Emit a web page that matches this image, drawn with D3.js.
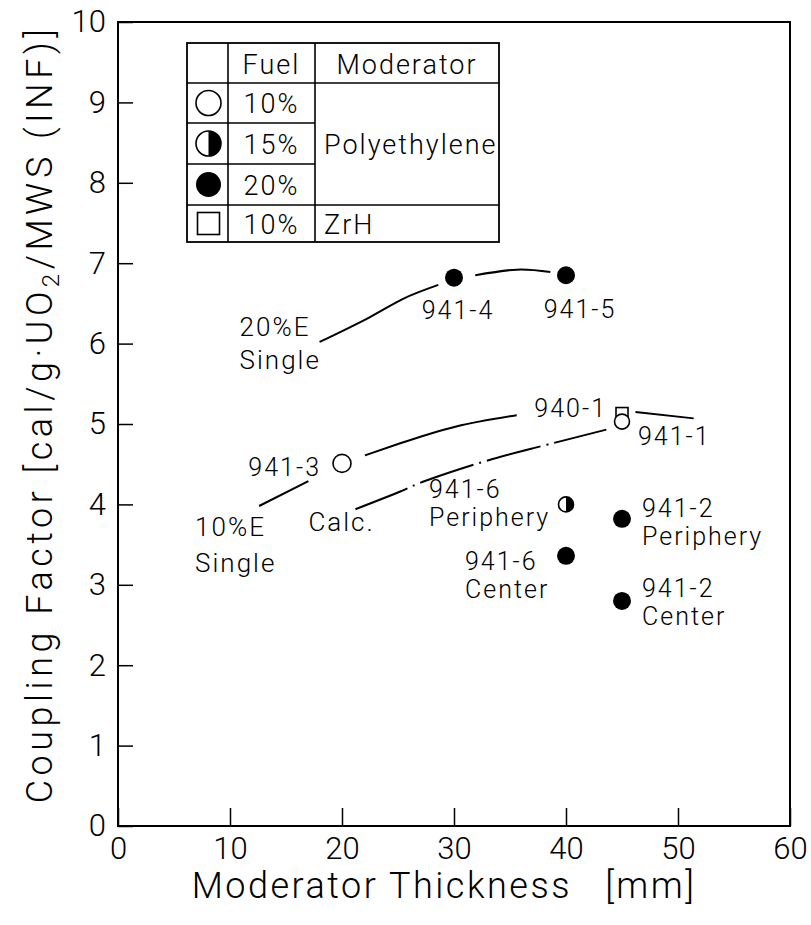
<!DOCTYPE html>
<html>
<head>
<meta charset="utf-8">
<script src="https://cdn.jsdelivr.net/npm/d3@7"></script>
<style>
  html, body { margin: 0; padding: 0; background: #fff; }
  svg { display: block; }
  text { font-family: Roboto, "Liberation Sans", Arial, sans-serif; font-weight: 300; fill: #000; }
</style>
</head>
<body>
<svg id="chart" width="811" height="925"></svg>
<script>
// ---------------- DATA ----------------
const xTicks = [0, 10, 20, 30, 40, 50, 60];
const yTicks = [0, 1, 2, 3, 4, 5, 6, 7, 8, 9, 10];

const pointNames = ["941-4", "941-5", "941-3", "940-1", "941-1", "941-6 Periphery", "941-6 Center", "941-2 Periphery", "941-2 Center"];
const pointLines = [["941-4"], ["941-5"], ["941-3"], ["940-1"], ["941-1"], ["941-6", "Periphery"], ["941-6", "Center"], ["941-2", "Periphery"], ["941-2", "Center"]];
const pointX = [30, 40, 20, 45, 45, 40, 40, 45, 45];
const pointY = [6.82, 6.85, 4.51, 5.13, 5.03, 4.00, 3.36, 3.82, 2.80];
const pointFuel = ["20%", "20%", "10%", "10%", "10%", "15%", "20%", "20%", "20%"];
const pointModerator = ["Polyethylene", "Polyethylene", "Polyethylene", "ZrH", "Polyethylene", "Polyethylene", "Polyethylene", "Polyethylene", "Polyethylene"];

// Curves (segments are interrupted where they pass labels / markers)
const single20Seg1X = [18.0, 22.5, 25.5, 28.6];
const single20Seg1Y = [6.02, 6.33, 6.56, 6.73];
const single20Seg2X = [31.9, 35.6, 38.6];
const single20Seg2Y = [6.85, 6.92, 6.89];
const single10Seg1X = [12.6, 17.0];
const single10Seg1Y = [3.98, 4.29];
const single10Seg2X = [22.05, 25.2, 30.2, 35.6];
const single10Seg2Y = [4.61, 4.76, 4.97, 5.11];
const single10Seg3X = [46.2, 51.4];
const single10Seg3Y = [5.15, 5.07];
const calcX = [21.2, 25.2, 27.6, 32.6, 37.1, 43.6];
const calcY = [3.94, 4.16, 4.30, 4.53, 4.70, 4.93];

const curveLabels = [["20%E", "Single"], ["10%E", "Single"], ["Calc."]];

const legendHeader = ["", "Fuel", "Moderator"];
const legendSymbols = ["open", "half", "filled", "square"];
const legendFuel = ["10%", "15%", "20%", "10%"];
const legendModerator = ["Polyethylene", "ZrH"];

const xTitle = "Moderator Thickness";
const xTitleUnit = "[mm]";

// ---------------- LAYOUT ----------------
const svg = d3.select("#chart");
const L = 118, R = 790, T = 22, B = 826;
const x = d3.scaleLinear().domain([0, 60]).range([L, R]);
const y = d3.scaleLinear().domain([0, 10]).range([B, T]);
const LABEL_SIZE = 25;

function symbolOf(fuel, mod) {
  if (mod === "ZrH") return "square";
  if (fuel === "10%") return "open";
  if (fuel === "15%") return "half";
  return "filled";
}

function drawSymbol(g, type, cx, cy, r) {
  if (type === "open") {
    g.append("circle").attr("cx", cx).attr("cy", cy).attr("r", r)
      .attr("fill", "#fff").attr("stroke", "#000").attr("stroke-width", 1.6);
  } else if (type === "filled") {
    g.append("circle").attr("cx", cx).attr("cy", cy).attr("r", r).attr("fill", "#000");
  } else if (type === "half") {
    g.append("circle").attr("cx", cx).attr("cy", cy).attr("r", r)
      .attr("fill", "#fff").attr("stroke", "#000").attr("stroke-width", 1.6);
    g.append("path")
      .attr("d", `M${cx},${cy - r} A${r},${r} 0 0 1 ${cx},${cy + r} Z`)
      .attr("fill", "#000");
  } else if (type === "square") {
    g.append("rect").attr("x", cx - r).attr("y", cy - r)
      .attr("width", 2 * r).attr("height", 2 * r)
      .attr("fill", "none").attr("stroke", "#000").attr("stroke-width", 1.6);
  }
}

// ---------------- AXES ----------------
const xAxis = d3.axisBottom(x).tickValues(xTicks).tickSizeInner(-18).tickSizeOuter(0).tickPadding(11);
const yAxis = d3.axisLeft(y).tickValues(yTicks).tickSizeInner(-15).tickSizeOuter(0).tickPadding(12);

const gx = svg.append("g").attr("transform", `translate(0,${B})`).call(xAxis);
const gy = svg.append("g").attr("transform", `translate(${L},0)`).call(yAxis);
[gx, gy].forEach(g => {
  g.select(".domain").remove();
  g.selectAll(".tick line").attr("stroke", "#000").attr("stroke-width", 1.5);
  g.selectAll(".tick text").attr("font-size", 31)
    .attr("font-family", "Roboto, Liberation Sans, Arial, sans-serif")
    .attr("font-weight", 300).attr("fill", "#000");
});

// frame
svg.append("rect").attr("x", L).attr("y", T).attr("width", R - L).attr("height", B - T)
  .attr("fill", "none").attr("stroke", "#000").attr("stroke-width", 2);

// axis titles
const xt = svg.append("text").attr("x", (L + R) / 2 - 10).attr("y", 898)
  .attr("text-anchor", "middle").attr("font-size", 36).attr("letter-spacing", 2.5);
xt.append("tspan").text(xTitle + " ");
xt.append("tspan").attr("dx", 22).text(xTitleUnit);

const yt = svg.append("text").attr("transform", "translate(52,414) rotate(-90)")
  .attr("text-anchor", "middle").attr("font-size", 36).attr("letter-spacing", 4.5);
yt.append("tspan").text("Coupling Factor [cal/g·UO");
yt.append("tspan").attr("font-size", 24).attr("dy", 7).text("2");
yt.append("tspan").attr("dy", -7).text("/MWS (INF)]");

// ---------------- CURVES ----------------
const line = d3.line().x(d => x(d[0])).y(d => y(d[1])).curve(d3.curveNatural);
const zip = (a, b) => a.map((v, i) => [v, b[i]]);
const solidSegs = [
  zip(single20Seg1X, single20Seg1Y), zip(single20Seg2X, single20Seg2Y),
  zip(single10Seg1X, single10Seg1Y), zip(single10Seg2X, single10Seg2Y), zip(single10Seg3X, single10Seg3Y)
];
svg.append("g").selectAll("path").data(solidSegs).join("path")
  .attr("d", line).attr("fill", "none").attr("stroke", "#000").attr("stroke-width", 2);
svg.append("path").datum(zip(calcX, calcY)).attr("d", line)
  .attr("fill", "none").attr("stroke", "#000").attr("stroke-width", 2)
  .attr("stroke-dasharray", "56,6,2,6");

// curve labels anchored to curve starts
const curveAnchors = [
  { px: x(single20Seg1X[0]), py: y(single20Seg1Y[0]), dx: -80, dys: [-6, 27] },
  { px: x(single10Seg1X[0]), py: y(single10Seg1Y[0]), dx: -64, dys: [30, 66] },
  { px: x(calcX[0]), py: y(calcY[0]), dx: -47, dys: [22] }
];
curveLabels.forEach((lines, i) => {
  const a = curveAnchors[i];
  lines.forEach((t, j) => {
    svg.append("text").attr("x", a.px + a.dx).attr("y", a.py + a.dys[j])
      .attr("font-size", LABEL_SIZE + 1).attr("letter-spacing", 2).text(t);
  });
});

// ---------------- POINTS ----------------
const labelLayout = [
  { anchor: "middle", dx: 4, dys: [41] },
  { anchor: "middle", dx: 14, dys: [43] },
  { anchor: "end", dx: -21, dys: [13] },
  { anchor: "end", dx: -15, dys: [3] },
  { anchor: "start", dx: 16, dys: [23] },
  { anchor: "start", dx: -137, dys: [-6, 22] },
  { anchor: "start", dx: -101, dys: [14, 42] },
  { anchor: "start", dx: 20, dys: [-2, 26] },
  { anchor: "start", dx: 20, dys: [-4, 24] }
];
const gp = svg.append("g");
pointX.forEach((v, i) => {
  const cx = x(v), cy = y(pointY[i]);
  const type = symbolOf(pointFuel[i], pointModerator[i]);
  const r = type === "square" ? 6 : (type === "open" && v === 45 ? 7.5 : (type === "half" ? 7.5 : 9));
  drawSymbol(gp, type, cx, cy, r);
  const lay = labelLayout[i];
  pointLines[i].forEach((t, j) => {
    gp.append("text").attr("x", cx + lay.dx).attr("y", cy + lay.dys[j])
      .attr("text-anchor", lay.anchor).attr("font-size", LABEL_SIZE).attr("letter-spacing", 2).text(t);
  });
});

// ---------------- LEGEND TABLE ----------------
const lg = svg.append("g");
const colX = [187, 228, 315, 499];
const rowY = [43, 83, 123, 164, 205, 242];
function hline(x1, x2, yy) { lg.append("line").attr("x1", x1).attr("x2", x2).attr("y1", yy).attr("y2", yy).attr("stroke", "#000").attr("stroke-width", 1.6); }
function vline(xx, y1, y2) { lg.append("line").attr("x1", xx).attr("x2", xx).attr("y1", y1).attr("y2", y2).attr("stroke", "#000").attr("stroke-width", 1.6); }
lg.append("rect").attr("x", colX[0]).attr("y", rowY[0]).attr("width", colX[3] - colX[0]).attr("height", rowY[5] - rowY[0])
  .attr("fill", "#fff").attr("stroke", "#000").attr("stroke-width", 1.8);
vline(colX[1], rowY[0], rowY[5]);
vline(colX[2], rowY[0], rowY[5]);
hline(colX[0], colX[3], rowY[1]);
hline(colX[0], colX[2], rowY[2]);
hline(colX[0], colX[2], rowY[3]);
hline(colX[0], colX[3], rowY[4]);

legendHeader.forEach((t, i) => {
  if (!t) return;
  lg.append("text").attr("x", (colX[i] + colX[i + 1]) / 2).attr("y", rowY[0] + 31)
    .attr("text-anchor", "middle").attr("font-size", 27).attr("letter-spacing", 2).text(t);
});
legendSymbols.forEach((s, i) => {
  const cy = (rowY[i + 1] + rowY[i + 2]) / 2;
  drawSymbol(lg, s, (colX[0] + colX[1]) / 2 + 1, cy, s === "square" ? 11 : 12.5);
  lg.append("text").attr("x", (colX[1] + colX[2]) / 2).attr("y", cy + 10)
    .attr("text-anchor", "middle").attr("font-size", 27).attr("letter-spacing", 2).text(legendFuel[i]);
});
lg.append("text").attr("x", colX[2] + 9).attr("y", (rowY[1] + rowY[4]) / 2 + 10)
  .attr("font-size", 27).attr("letter-spacing", 2).text(legendModerator[0]);
lg.append("text").attr("x", colX[2] + 9).attr("y", (rowY[4] + rowY[5]) / 2 + 10)
  .attr("font-size", 27).attr("letter-spacing", 2).text(legendModerator[1]);
</script>
</body>
</html>
